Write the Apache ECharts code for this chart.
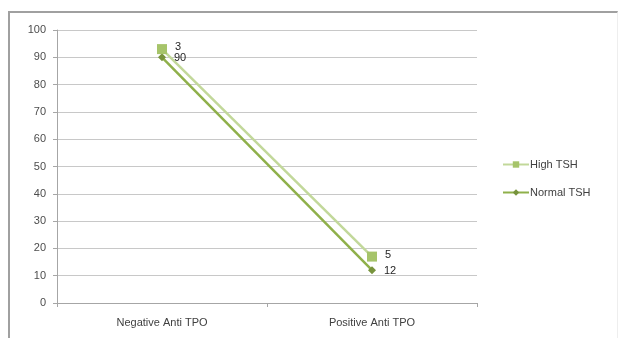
<!DOCTYPE html>
<html><head><meta charset="utf-8">
<script src="https://cdn.jsdelivr.net/npm/echarts@6/dist/echarts.min.js"></script>
<style>
html,body{margin:0;padding:0;background:#fff;}
#frame{position:absolute;left:8px;top:11px;width:610px;height:330px;border-top:2px solid #a0a0a0;border-left:2px solid #a0a0a0;border-right:1px solid #eee;box-sizing:border-box;}
#c{position:absolute;left:0;top:0;width:623px;height:338px;}
</style></head>
<body>
<div id="frame"></div>
<div id="c"></div>
<script>
const categories = ['Negative Anti TPO', 'Positive Anti TPO'];
const normalTSH = [90, 12];
const highTSH = [3, 5];
const yTicks = {min: 0, max: 100, interval: 10};

const chart = echarts.init(document.getElementById('c'));
chart.setOption({
  animation: false,
  backgroundColor: 'transparent',
  grid: {left: 57, right: 146, top: 30, bottom: 35},
  legend: {
    orient: 'vertical', left: 497, top: 154, itemGap: 17,
    data: ['High TSH', 'Normal TSH'],
    itemWidth: 26, itemHeight: 8,
    textStyle: {fontFamily: 'Liberation Sans, Arial', fontSize: 11, color: '#404040', padding: [0,0,0,-4]}
  },
  xAxis: {
    type: 'category', data: categories, boundaryGap: true,
    axisLine: {lineStyle: {color: '#a6a6a6'}},
    axisTick: {show: true, length: 4, lineStyle: {color: '#a6a6a6'}},
    axisLabel: {fontFamily: 'Liberation Sans, Arial', fontSize: 11, color: '#404040', margin: 14}
  },
  yAxis: {
    type: 'value', min: yTicks.min, max: yTicks.max, interval: yTicks.interval,
    axisLine: {show: true, lineStyle: {color: '#a6a6a6'}},
    axisTick: {show: true, length: 4, lineStyle: {color: '#a6a6a6'}},
    splitLine: {lineStyle: {color: '#c8c8c8'}},
    axisLabel: {fontFamily: 'Liberation Sans, Arial', fontSize: 11, color: '#4d4d4d', margin: 11}
  },
  series: [
    {
      name: 'Normal TSH', type: 'line', stack: 'tsh', data: normalTSH,
      symbol: 'diamond', symbolSize: 8,
      itemStyle: {color: '#77933c'},
      lineStyle: {color: '#8fb04a', width: 2.5},
      label: {show: true, position: 'right', distance: 8, fontFamily: 'Liberation Sans, Arial', fontSize: 11, color: '#262626', offset: [0, 1]}
    },
    {
      name: 'High TSH', type: 'line', stack: 'tsh', data: highTSH,
      symbol: 'rect', symbolSize: 10,
      itemStyle: {color: '#a6c46a'},
      lineStyle: {color: '#c2d89a', width: 2.5},
      label: {show: true, position: 'right', distance: 8, fontFamily: 'Liberation Sans, Arial', fontSize: 11, color: '#262626', offset: [0, -2]}
    }
  ]
});
</script>
</body></html>
